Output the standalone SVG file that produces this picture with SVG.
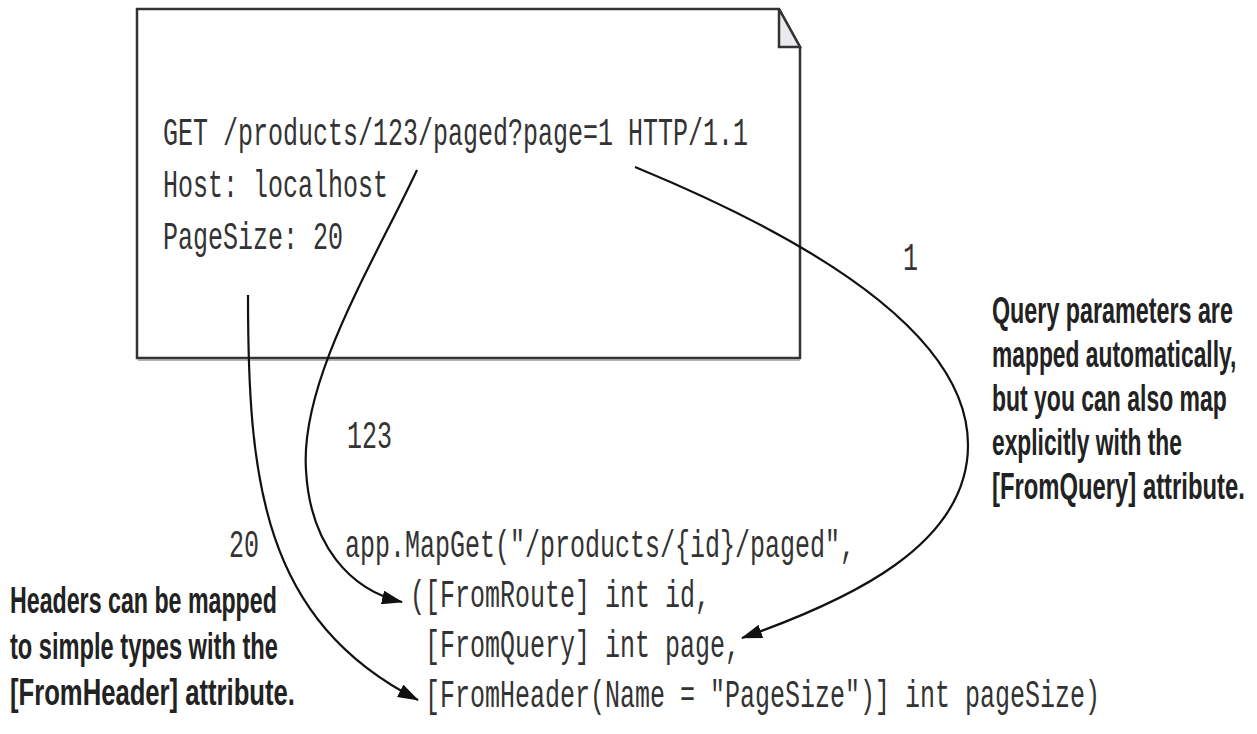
<svg xmlns="http://www.w3.org/2000/svg" width="1257" height="734" viewBox="0 0 1257 734">
<defs>
<style>
.mono{font-family:"Liberation Mono","DejaVu Sans Mono",monospace;font-size:38px;fill:#333;}
.note{font-family:"Liberation Sans","DejaVu Sans",sans-serif;font-size:37px;font-weight:bold;fill:#222;}
.conn{fill:none;stroke:#111;stroke-width:2.2;marker-end:url(#ah);}
</style>
<marker id="ah" markerUnits="userSpaceOnUse" markerWidth="22" markerHeight="14" refX="20" refY="7" orient="auto">
<path d="M0,0 L21,7 L0,14 z" fill="#111"/>
</marker>
</defs>
<rect width="1257" height="734" fill="#fff"/>
<g id="request">
<path d="M137,9 H779 L800,47 V358 H137 Z" fill="#fff" stroke="#333" stroke-width="2.5"/>
<line x1="138" y1="360" x2="800" y2="360" stroke="#999" stroke-width="1.5"/>
<path d="M779,9 L800,47 H779 Z" fill="#e9e9ee" stroke="#333" stroke-width="2.5"/>
<text class="mono" transform="translate(163,145) scale(0.658,1)">GET /products/123/paged?page=1 HTTP/1.1</text>
<text class="mono" transform="translate(163,197) scale(0.658,1)">Host: localhost</text>
<text class="mono" transform="translate(163,249) scale(0.658,1)">PageSize: 20</text>
</g>
<g id="code">
<text class="mono" transform="translate(345,557) scale(0.658,1)">app.MapGet("/products/{id}/paged",</text>
<text class="mono" transform="translate(410,607) scale(0.658,1)">([FromRoute] int id,</text>
<text class="mono" transform="translate(425,657) scale(0.658,1)">[FromQuery] int page,</text>
<text class="mono" transform="translate(425,707) scale(0.658,1)">[FromHeader(Name = "PageSize")] int pageSize)</text>
</g>
<g id="label-1"><text class="mono" transform="translate(903,270) scale(0.658,1)">1</text></g>
<g id="label-123"><text class="mono" transform="translate(347,448) scale(0.658,1)">123</text></g>
<g id="label-20"><text class="mono" transform="translate(229,557) scale(0.658,1)">20</text></g>
<g id="note-query">
<text class="note" transform="translate(992,323) scale(0.630,1)">Query parameters are</text>
<text class="note" transform="translate(992,367) scale(0.617,1)">mapped automatically,</text>
<text class="note" transform="translate(992,411) scale(0.621,1)">but you can also map</text>
<text class="note" transform="translate(992,455) scale(0.616,1)">explicitly with the</text>
<text class="note" transform="translate(992,499) scale(0.644,1)">[FromQuery] attribute.</text>
</g>
<g id="note-header">
<text class="note" transform="translate(10,613) scale(0.627,1)">Headers can be mapped</text>
<text class="note" transform="translate(10,659) scale(0.639,1)">to simple types with the</text>
<text class="note" transform="translate(10,705) scale(0.693,1)">[FromHeader] attribute.</text>
</g>
<g id="connectors">
<path class="conn" d="M417,170 C375,260 300,380 306,470 C310,545 350,590 402,602"/>
<path class="conn" d="M248,295 C248,480 262,620 418,700"/>
<path class="conn" d="M635,167 C800,235 968,330 968,445 C968,545 850,600 742,638"/>
</g>
</svg>
